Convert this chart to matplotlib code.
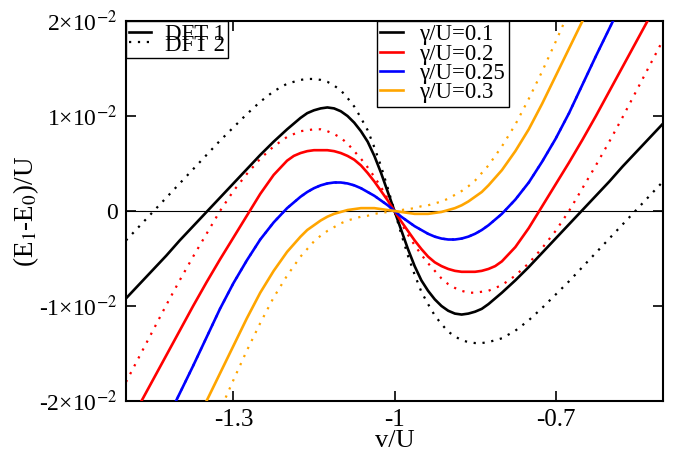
import numpy as np
import matplotlib
matplotlib.use("Agg")
import matplotlib.pyplot as plt
from matplotlib.lines import Line2D

plt.rcParams['font.family'] = ['Liberation Serif', 'DejaVu Serif']
plt.rcParams['mathtext.fontset'] = 'stix'

# sample positions (v/U): coarse on the outer parts, finer around the extrema
x = np.round(np.concatenate([np.arange(-1.5, -1.2124, 0.025),
                             np.arange(-1.2, -0.7999, 0.0125),
                             np.arange(-0.775, -0.4999, 0.025)]), 4)

# DFT 1 (solid lines)
dft1_g01 = [-0.0092, -0.0077, -0.0062, -0.0047, -0.0031, -0.0016, -0.0001, 0.0014, 0.0029, 0.0044, 0.0059, 0.0073,
            0.0086, 0.0092, 0.0098, 0.0103, 0.0106, 0.0108, 0.0109, 0.0108, 0.0105, 0.0100, 0.0093, 0.0084, 0.0073,
            0.0058, 0.0040, 0.0020, 0.0,
            -0.0020, -0.0040, -0.0058, -0.0073, -0.0084, -0.0093, -0.0100, -0.0105, -0.0108, -0.0109, -0.0108,
            -0.0106, -0.0103, -0.0098, -0.0092, -0.0086,
            -0.0073, -0.0059, -0.0044, -0.0029, -0.0014, 0.0001, 0.0016, 0.0031, 0.0047, 0.0062, 0.0077, 0.0092]
dft1_g02 = [-0.0230, -0.0204, -0.0178, -0.0152, -0.0126, -0.0100, -0.0075, -0.0051, -0.0028, -0.0005, 0.0018, 0.0038,
            0.0053, 0.0058, 0.0061, 0.0063, 0.0064, 0.0064, 0.0064, 0.0063, 0.0061, 0.0058, 0.0054, 0.0048, 0.0040,
            0.0031, 0.0021, 0.0011, 0.0,
            -0.0011, -0.0021, -0.0031, -0.0040, -0.0048, -0.0054, -0.0058, -0.0061, -0.0063, -0.0064, -0.0064,
            -0.0064, -0.0063, -0.0061, -0.0058, -0.0053,
            -0.0038, -0.0018, 0.0005, 0.0028, 0.0051, 0.0075, 0.0100, 0.0126, 0.0152, 0.0178, 0.0204, 0.0230]
dft1_g025 = [-0.0308, -0.0279, -0.0250, -0.0221, -0.0192, -0.0163, -0.0133, -0.0103, -0.0076, -0.0052, -0.0030, -0.0012,
             0.0003, 0.0009, 0.0015, 0.0020, 0.0024, 0.0027, 0.0029, 0.0030, 0.0030, 0.0029, 0.0027, 0.0024, 0.0020,
             0.0016, 0.0011, 0.0006, 0.0,
             -0.0006, -0.0011, -0.0016, -0.0020, -0.0024, -0.0027, -0.0029, -0.0030, -0.0030, -0.0029, -0.0027,
             -0.0024, -0.0020, -0.0015, -0.0009, -0.0003,
             0.0012, 0.0030, 0.0052, 0.0076, 0.0103, 0.0133, 0.0163, 0.0192, 0.0221, 0.0250, 0.0279, 0.0308]
dft1_g03 = [-0.0364, -0.0336, -0.0308, -0.0280, -0.0256, -0.0228, -0.0200, -0.0171, -0.0142, -0.0113, -0.0086, -0.0063,
            -0.0043, -0.0035, -0.0027, -0.0020, -0.0015, -0.0010, -0.0006, -0.0003, -0.0001, 0.0001, 0.0002, 0.0003,
            0.0003, 0.0003, 0.0002, 0.0001, 0.0,
            -0.0001, -0.0002, -0.0003, -0.0003, -0.0003, -0.0002, -0.0001, 0.0001, 0.0003, 0.0006, 0.0010,
            0.0015, 0.0020, 0.0027, 0.0035, 0.0043,
            0.0063, 0.0086, 0.0113, 0.0142, 0.0171, 0.0200, 0.0228, 0.0256, 0.0280, 0.0308, 0.0336, 0.0364]

# DFT 2 (dotted lines)
dft2_g01 = [-0.0031, -0.0016, -0.0001, 0.0014, 0.0029, 0.0044, 0.0059, 0.0074, 0.0088, 0.0102, 0.0115, 0.0126,
            0.0134, 0.0136, 0.0138, 0.0139, 0.0139, 0.0138, 0.0136, 0.0132, 0.0127, 0.0119, 0.0110, 0.0098, 0.0085,
            0.0067, 0.0047, 0.0024, 0.0,
            -0.0024, -0.0047, -0.0067, -0.0085, -0.0098, -0.0110, -0.0119, -0.0127, -0.0132, -0.0136, -0.0138,
            -0.0139, -0.0139, -0.0138, -0.0136, -0.0134,
            -0.0126, -0.0115, -0.0102, -0.0088, -0.0074, -0.0059, -0.0044, -0.0029, -0.0014, 0.0001, 0.0016, 0.0031]
dft2_g02 = [-0.0180, -0.0153, -0.0126, -0.0099, -0.0073, -0.0048, -0.0024, 0.0000, 0.0021, 0.0039, 0.0055, 0.0068,
            0.0078, 0.0081, 0.0084, 0.0085, 0.0086, 0.0086, 0.0084, 0.0081, 0.0077, 0.0071, 0.0063, 0.0055, 0.0046,
            0.0036, 0.0025, 0.0013, 0.0,
            -0.0013, -0.0025, -0.0036, -0.0046, -0.0055, -0.0063, -0.0071, -0.0077, -0.0081, -0.0084, -0.0086,
            -0.0086, -0.0085, -0.0084, -0.0081, -0.0078,
            -0.0068, -0.0055, -0.0039, -0.0021, 0.0000, 0.0024, 0.0048, 0.0073, 0.0099, 0.0126, 0.0153, 0.0180]
dft2_g025 = [-0.0308, -0.0279, -0.0250, -0.0221, -0.0192, -0.0163, -0.0133, -0.0103, -0.0076, -0.0052, -0.0030, -0.0012,
             0.0003, 0.0009, 0.0015, 0.0020, 0.0024, 0.0027, 0.0029, 0.0030, 0.0030, 0.0029, 0.0027, 0.0024, 0.0020,
             0.0016, 0.0011, 0.0006, 0.0,
             -0.0006, -0.0011, -0.0016, -0.0020, -0.0024, -0.0027, -0.0029, -0.0030, -0.0030, -0.0029, -0.0027,
             -0.0024, -0.0020, -0.0015, -0.0009, -0.0003,
             0.0012, 0.0030, 0.0052, 0.0076, 0.0103, 0.0133, 0.0163, 0.0192, 0.0221, 0.0250, 0.0279, 0.0308]
dft2_g03 = [-0.0420, -0.0390, -0.0360, -0.0330, -0.0300, -0.0270, -0.0240, -0.0210, -0.0178, -0.0147, -0.0118, -0.0091,
            -0.0068, -0.0058, -0.0048, -0.0040, -0.0032, -0.0026, -0.0021, -0.0017, -0.0013, -0.0010, -0.0008, -0.0006,
            -0.0005, -0.0003, -0.0002, -0.0001, 0.0,
            0.0001, 0.0002, 0.0003, 0.0005, 0.0006, 0.0008, 0.0010, 0.0013, 0.0017, 0.0021, 0.0026,
            0.0032, 0.0040, 0.0048, 0.0058, 0.0068,
            0.0091, 0.0118, 0.0147, 0.0178, 0.0210, 0.0240, 0.0270, 0.0300, 0.0330, 0.0360, 0.0390, 0.0420]

gamma_labels = ["γ/U=0.1", "γ/U=0.2", "γ/U=0.25", "γ/U=0.3"]
colors = ["black", "red", "blue", "orange"]
dft_labels = ["DFT 1", "DFT 2"]

xticks = [-1.3, -1.0, -0.7]
xticklabels = ["-1.3", "-1", "-0.7"]
yticks = [-0.02, -0.01, 0.0, 0.01, 0.02]
yticklabels = ["-2×10$^{-2}$", "-1×10$^{-2}$", "0", "1×10$^{-2}$", "2×10$^{-2}$"]

fig = plt.figure(figsize=(6.75, 4.53), dpi=100)
ax = fig.add_axes([126/675, 1-401/453, (663-126)/675, (401-21)/453])

ax.axhline(0, color='black', lw=0.8, zorder=1)

solid = [dft1_g01, dft1_g02, dft1_g025, dft1_g03]
dotted = [dft2_g01, dft2_g02, dft2_g025, dft2_g03]
for ys, c in zip(dotted, colors):
    ax.plot(x, ys, color=c, lw=1.6, linestyle=(0, (1, 3)), zorder=2)
for ys, c in zip(solid, colors):
    ax.plot(x, ys, color=c, lw=1.9, zorder=3, solid_joinstyle='round')

ax.set_xlim(-1.5, -0.5)
ax.set_ylim(-0.02, 0.02)
ax.set_xticks(xticks)
ax.set_xticklabels(xticklabels, fontsize=18)
ax.set_yticks(yticks)
ax.set_yticklabels(yticklabels, fontsize=17)
ax.tick_params(direction='in', length=7, width=1.2, top=True, right=True, pad=6)
for s in ax.spines.values():
    s.set_linewidth(1.5)

ax.set_xlabel("v/U", fontsize=19, labelpad=-1)
ax.set_ylabel("(E$_1$-E$_0$)/U", fontsize=19.5, labelpad=-1)

h1 = [Line2D([], [], color='black', lw=1.9),
      Line2D([], [], color='black', lw=1.6, linestyle=(0, (1, 3)))]
leg1 = ax.legend(h1, dft_labels, loc='upper left', bbox_to_anchor=(0, 1), borderaxespad=0,
                 fancybox=False, edgecolor='black', framealpha=1, fontsize=16.5,
                 handlelength=0.95, handletextpad=0.65, labelspacing=-0.45,
                 borderpad=0.12)
leg1.get_frame().set_linewidth(1.0)
ax.add_artist(leg1)

h2 = [Line2D([], [], color=c, lw=1.9) for c in colors]
leg2 = ax.legend(h2, gamma_labels, loc='upper left', bbox_to_anchor=((377-126)/537, 1),
                 borderaxespad=0, fancybox=False, edgecolor='black', framealpha=1,
                 fontsize=16.5, handlelength=1.0, handletextpad=0.7, labelspacing=-0.08,
                 borderpad=0.15)
leg2.get_frame().set_linewidth(1.0)

fig.savefig("out.png", dpi=100)
